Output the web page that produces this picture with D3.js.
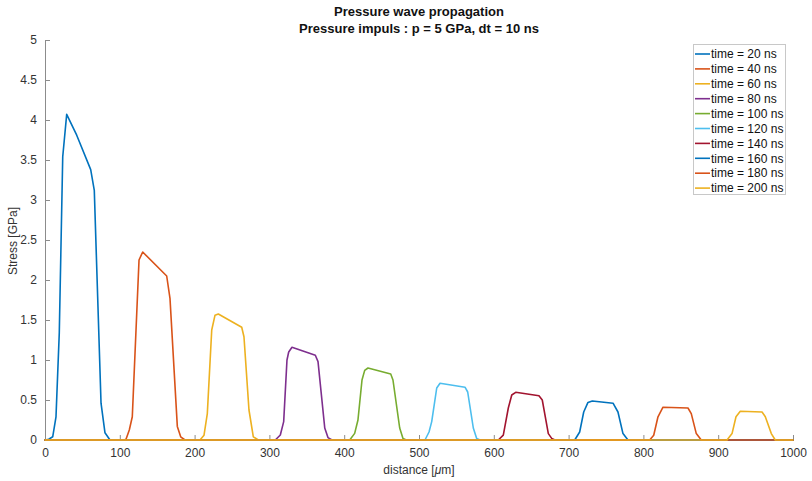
<!DOCTYPE html>
<html>
<head>
<meta charset="utf-8">
<script src="https://cdn.jsdelivr.net/npm/d3@7/dist/d3.min.js"></script>
<style>
  html, body { margin: 0; padding: 0; background: #fff; }
  svg { display: block; font-family: "Liberation Sans", Arial, Helvetica, sans-serif; }
</style>
</head>
<body>
<svg id="chart" width="812" height="481"></svg>
<script>
// ---- data ----
const categories = ["time = 20 ns", "time = 40 ns", "time = 60 ns", "time = 80 ns", "time = 100 ns",
                    "time = 120 ns", "time = 140 ns", "time = 160 ns", "time = 180 ns", "time = 200 ns"];
const colors = ["#0072BD", "#D95319", "#EDB120", "#7E2F8E", "#77AC30",
                "#4DBEEE", "#A2142F", "#0072BD", "#D95319", "#EDB120"];
const xTicks = [0, 100, 200, 300, 400, 500, 600, 700, 800, 900, 1000];
const yTicks = [0, 0.5, 1, 1.5, 2, 2.5, 3, 3.5, 4, 4.5, 5];
const xTickLabels = ["0", "100", "200", "300", "400", "500", "600", "700", "800", "900", "1000"];
const yTickLabels = ["0", "0.5", "1", "1.5", "2", "2.5", "3", "3.5", "4", "4.5", "5"];

const s20  = [[0,0],[5,0.01],[10.3,0.04],[14.7,0.29],[19.1,1.34],[23.7,3.54],[29,4.07],[42.4,3.81],[61.1,3.38],[65.9,3.12],[74.9,0.46],[80.2,0.09],[86.9,0],[1000,0]];
const s40  = [[0,0],[106,0],[108.3,0.01],[112.7,0.125],[116.7,0.29],[125.7,2.25],[130.6,2.35],[162.7,2.05],[167.1,1.77],[176.9,0.17],[181.4,0.04],[187.2,0],[1000,0]];
const s60  = [[0,0],[207.2,0],[212.6,0.06],[217,0.33],[222.9,1.375],[227.3,1.56],[231.7,1.575],[263,1.41],[266,1.29],[272.7,0.375],[278.5,0.04],[285.2,0],[1000,0]];
const s80  = [[0,0],[307.9,0],[314.6,0.0625],[319.1,0.23],[323.5,1.0],[325.8,1.1],[330.2,1.16],[361.4,1.06],[365,0.98],[374,0.15],[378.3,0.03],[383.7,0],[1000,0]];
const s100 = [[0,0],[407.4,0],[414,0.083],[418.4,0.25],[423.8,0.75],[427.4,0.87],[431.8,0.90],[462.2,0.825],[465.2,0.75],[474.2,0.15],[478.6,0.02],[483,0],[1000,0]];
const s120 = [[0,0],[508,0],[513.4,0.10],[517,0.23],[523.7,0.65],[528.1,0.71],[561.5,0.66],[565.1,0.6],[572.6,0.15],[577.1,0.02],[581.6,0],[1000,0]];
const s140 = [[0,0],[606,0],[612.7,0.06],[619.4,0.40],[624,0.5625],[629.3,0.596],[660.4,0.554],[664.8,0.5],[672.9,0.08],[677.4,0.02],[681.8,0],[1000,0]];
const s160 = [[0,0],[708.2,0],[714.8,0.10],[720.2,0.35],[725.9,0.47],[731.7,0.4875],[759.4,0.46],[766,0.35],[772.7,0.08],[779.4,0],[1000,0]];
const s180 = [[0,0],[808.4,0],[813.8,0.06],[819.5,0.29],[826.2,0.41],[859.6,0.40],[864,0.33],[870.7,0.08],[877.4,0],[1000,0]];
const s200 = [[0,0],[911.8,0],[918.5,0.08],[923.8,0.29],[929.5,0.36],[958.6,0.35],[963,0.29],[971,0.08],[976.3,0],[1000,0]];
const seriesValues = [s20, s40, s60, s80, s100, s120, s140, s160, s180, s200];

// ---- layout ----
const svg = d3.select("#chart");
const plotLeft = 45, plotRight = 793, plotTop = 40, plotBottom = 440;
const x = d3.scaleLinear().domain([0, 1000]).range([plotLeft, plotRight]);
const y = d3.scaleLinear().domain([0, 5]).range([plotBottom, plotTop]);
const axisColor = "#8c8c8c";
const textColor = "#333";

// Title
svg.append("text").attr("x", 419).attr("y", 15.5).attr("text-anchor", "middle")
  .attr("font-size", 13).attr("font-weight", "bold").attr("fill", "#111")
  .text("Pressure wave propagation");
svg.append("text").attr("x", 419).attr("y", 32.5).attr("text-anchor", "middle")
  .attr("font-size", 13).attr("font-weight", "bold").attr("fill", "#111")
  .text("Pressure impuls : p = 5 GPa, dt = 10 ns");

// Axes
const xAxis = d3.axisBottom(x).tickValues(xTicks).tickFormat((d, i) => xTickLabels[i])
  .tickSizeInner(-5).tickSizeOuter(0).tickPadding(8);
const gx = svg.append("g").attr("transform", `translate(0,${plotBottom})`).call(xAxis);
const yAxis = d3.axisLeft(y).tickValues(yTicks).tickFormat((d, i) => yTickLabels[i])
  .tickSizeInner(-5).tickSizeOuter(0).tickPadding(8);
const gy = svg.append("g").attr("transform", `translate(${plotLeft},0)`).call(yAxis);
[gx, gy].forEach(g => {
  g.select(".domain").attr("stroke", axisColor).attr("stroke-width", 1);
  g.selectAll(".tick line").attr("stroke", axisColor);
  g.selectAll(".tick text").attr("fill", textColor).attr("font-size", 12)
    .attr("font-family", "Liberation Sans, Arial, sans-serif");
});

// Axis labels
svg.append("text").attr("x", 419).attr("y", 474).attr("text-anchor", "middle")
  .attr("font-size", 12).attr("fill", textColor)
  .html('distance [<tspan font-style="italic">μ</tspan>m]');
svg.append("text").attr("transform", "translate(17,241) rotate(-90)").attr("text-anchor", "middle")
  .attr("font-size", 12).attr("fill", textColor).text("Stress [GPa]");

// Lines
const line = d3.line().x(d => x(d[0])).y(d => y(d[1]));
svg.append("g").selectAll("path").data(seriesValues).join("path")
  .attr("d", line).attr("fill", "none")
  .attr("stroke", (d, i) => colors[i]).attr("stroke-width", 1.6)
  .attr("stroke-linejoin", "round").attr("stroke-linecap", "round");

// Legend
const lg = svg.append("g");
lg.append("rect").attr("x", 693.5).attr("y", 44.5).attr("width", 92).attr("height", 150)
  .attr("fill", "#fff").attr("stroke", "#c8c8c8").attr("stroke-width", 1);
const rows = lg.selectAll("g.row").data(categories).join("g").attr("class", "row")
  .attr("transform", (d, i) => `translate(0,${54 + i * 14.9})`);
rows.append("line").attr("x1", 695).attr("x2", 710).attr("y1", 0).attr("y2", 0)
  .attr("stroke", (d, i) => colors[i]).attr("stroke-width", 1.6);
rows.append("text").attr("x", 711).attr("y", 4.2).attr("font-size", 12).attr("fill", "#111")
  .text(d => d);
</script>
</body>
</html>
